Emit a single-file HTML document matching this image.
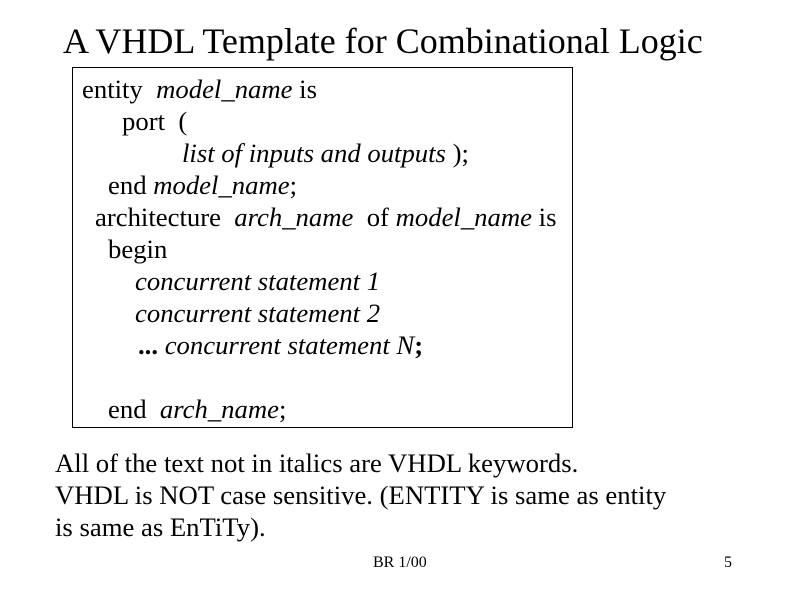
<!DOCTYPE html>
<html><head><meta charset="utf-8"><style>
html,body{margin:0;padding:0;background:#fff;}
body{width:800px;height:600px;position:relative;overflow:hidden;font-family:"Liberation Serif",serif;color:#000;}
.t{position:absolute;white-space:pre;line-height:1;}
.b{font-size:26.7px;}
i{font-style:italic;}
#box{position:absolute;left:72px;top:67px;width:499px;height:359px;border:1px solid #000;}
</style></head><body>
<div class="t" style="left:63px;top:23px;font-size:36px;">A VHDL Template for Combinational Logic</div>
<div id="box"></div>
<div class="t b" style="left:82px;top:76px;">entity  <i>model_name</i> is</div>
<div class="t b" style="left:122px;top:108px;">port  (</div>
<div class="t b" style="left:182px;top:140px;"><i>list of inputs and outputs</i> );</div>
<div class="t b" style="left:108px;top:172px;">end <i>model_name</i>;</div>
<div class="t b" style="left:95px;top:204px;">architecture  <i>arch_name</i>  of <i>model_name</i> is</div>
<div class="t b" style="left:108px;top:236px;">begin</div>
<div class="t b" style="left:135px;top:268px;"><i>concurrent statement 1</i></div>
<div class="t b" style="left:135px;top:300px;"><i>concurrent statement 2</i></div>
<div class="t b" style="left:138px;top:332px;"><b>...</b> <i>concurrent statement N</i><b>;</b></div>
<div class="t b" style="left:108px;top:396px;">end  <i>arch_name</i>;</div>
<div class="t b" style="left:55px;top:450px;">All of the text not in italics are VHDL keywords.</div>
<div class="t b" style="left:55px;top:482px;">VHDL is NOT case sensitive. (ENTITY is same as entity</div>
<div class="t b" style="left:55px;top:514px;">is same as EnTiTy).</div>
<div class="t" style="left:373px;top:555px;font-size:16px;">BR 1/00</div>
<div class="t" style="left:724px;top:555px;font-size:16px;">5</div>
</body></html>
